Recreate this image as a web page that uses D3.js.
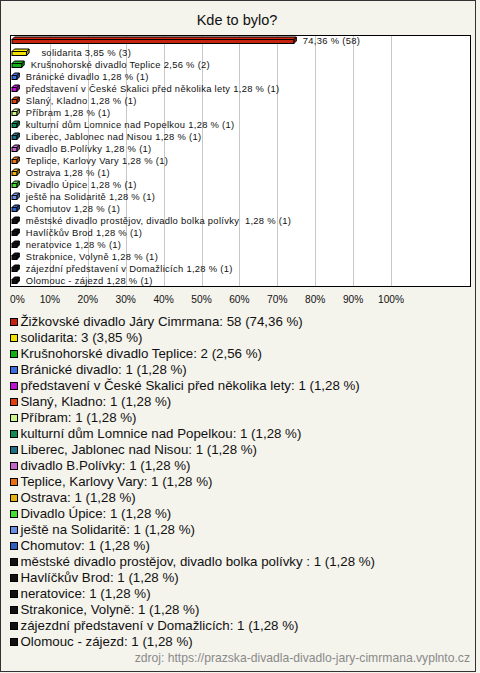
<!DOCTYPE html>
<html><head><meta charset="utf-8">
<script src="https://cdn.jsdelivr.net/npm/d3@7"></script>
<style>
html,body{margin:0;padding:0;background:#f4f3ec;}
svg{display:block;font-family:"Liberation Sans",Arial,sans-serif;}
</style></head>
<body>
<svg id="chart" width="480" height="673"></svg>
<script>
const title = "Kde to bylo?";
const categories = [
  "Žižkovské divadlo Járy Cimrmana",
  "  solidarita",
  "Krušnohorské divadlo Teplice",
  "Bránické divadlo",
  "představení v České Skalici před několika lety",
  "Slaný, Kladno",
  "Příbram",
  "kulturní dům Lomnice nad Popelkou",
  "Liberec, Jablonec nad Nisou",
  "divadlo B.Polívky",
  "Teplice, Karlovy Vary",
  "Ostrava",
  "Divadlo Úpice",
  "ještě na Solidaritě",
  "Chomutov",
  "městské divadlo prostějov, divadlo bolka polívky ",
  "Havlíčkův Brod",
  "neratovice",
  "Strakonice, Volyně",
  "zájezdní představení v Domažlicích",
  "Olomouc - zájezd"
];
const counts = [58,3,2,1,1,1,1,1,1,1,1,1,1,1,1,1,1,1,1,1,1];
const percents = [74.36,3.85,2.56,1.28,1.28,1.28,1.28,1.28,1.28,1.28,1.28,1.28,1.28,1.28,1.28,1.28,1.28,1.28,1.28,1.28,1.28];
const colors = ["#c4230f","#f2e000","#12b012","#3b6ee0","#c010d8","#e0400e","#ccf58a","#118a55","#1b7288","#c266c8","#ea7010","#e8b010","#44dd33","#6690e6","#2f5fc0","#111111","#111111","#111111","#111111","#111111","#111111"];
const xTicks = [0,10,20,30,40,50,60,70,80,90,100];
const source = "zdroj: https://prazska-divadla-divadlo-jary-cimrmana.vyplnto.cz";

const fmt = v => String(v.toFixed(2)).replace(".", ",");
const svg = d3.select("#chart");

svg.append("rect").attr("x",0.5).attr("y",0.5).attr("width",475).attr("height",671)
  .attr("fill","#f4f3ec").attr("stroke","#333");

svg.append("text").attr("x",237).attr("y",25).attr("text-anchor","middle")
  .attr("font-size","14.5px").attr("fill","#111").text(title);

const plotRight = 470;
svg.append("rect").attr("x",10.5).attr("y",35.5).attr("width",460).attr("height",251)
  .attr("fill","#fff").attr("stroke","#000");

const x = d3.scaleLinear().domain([0,100]).range([12,391]);
const idx = d3.range(categories.length);
const y = d3.scaleBand().domain(idx).range([35,287]);

svg.append("g").selectAll("line").data(xTicks.slice(1)).join("line")
  .attr("x1",d=>Math.round(x(d))+0.5).attr("x2",d=>Math.round(x(d))+0.5)
  .attr("y1",36).attr("y2",286).attr("stroke","#c8c8c8");

const depth = 2.5;
const bars = svg.append("g").selectAll("g").data(idx).join("g");
bars.each(function(i){
  const g = d3.select(this);
  const c = y(i) + y.bandwidth()/2;
  const x0 = x(0), x1 = x(percents[i]);
  const top = c - 1.5, bot = c + 2.5;
  const col = d3.color(colors[i]);
  g.append("path").attr("d",`M${x1},${top}L${x1+depth},${top-depth}L${x1+depth},${bot-depth}L${x1},${bot}Z`)
    .attr("fill",col.darker(0.6)).attr("stroke","#000").attr("stroke-width",1);
  g.append("path").attr("d",`M${x0},${top}L${x0+depth},${top-depth}L${x1+depth},${top-depth}L${x1},${top}Z`)
    .attr("fill",col.brighter(0.2)).attr("stroke","#000").attr("stroke-width",1);
  g.append("rect").attr("x",x0).attr("y",top).attr("width",x1-x0).attr("height",bot-top)
    .attr("fill",colors[i]).attr("stroke","#000").attr("stroke-width",1);
  const t = g.append("text").attr("x",x1+9).attr("y",c+3).attr("font-size","9.4px")
    .attr("letter-spacing","0.3px").attr("fill","#111")
    .attr("xml:space","preserve").style("white-space","pre")
    .text(`${categories[i]} ${fmt(percents[i])} % (${counts[i]})`);
  if (x1 + 9 + t.node().getComputedTextLength() > plotRight - 2) {
    t.text(`${fmt(percents[i])} % (${counts[i]})`);
  }
});

svg.append("g").selectAll("text").data(xTicks).join("text")
  .attr("x",(d,i)=> i===0 ? 10 : x(d)).attr("y",303)
  .attr("text-anchor",(d,i)=> i===0 ? "start" : "middle")
  .attr("font-size","10.2px").attr("fill","#111").text(d=>d+"%");

const ly = d3.scaleLinear().domain([0,20]).range([321.7,641.7]);
const leg = svg.append("g").selectAll("g").data(idx).join("g");
leg.append("rect").attr("x",10.5).attr("y",i=>Math.round(ly(i)-4)+0.5).attr("width",7).attr("height",7)
  .attr("fill",i=>colors[i]).attr("stroke","#000");
leg.append("text").attr("x",20.5).attr("y",i=>ly(i)+4.5).attr("font-size","13.3px").attr("fill","#111")
  .attr("xml:space","preserve").style("white-space","pre")
  .text(i=>`${categories[i].replace(/^\s+/,"")}: ${counts[i]} (${fmt(percents[i])} %)`);

svg.append("text").attr("x",470).attr("y",662).attr("text-anchor","end")
  .attr("font-size","12.15px").attr("fill","#8a8a8a").text(source);
</script>
</body></html>
